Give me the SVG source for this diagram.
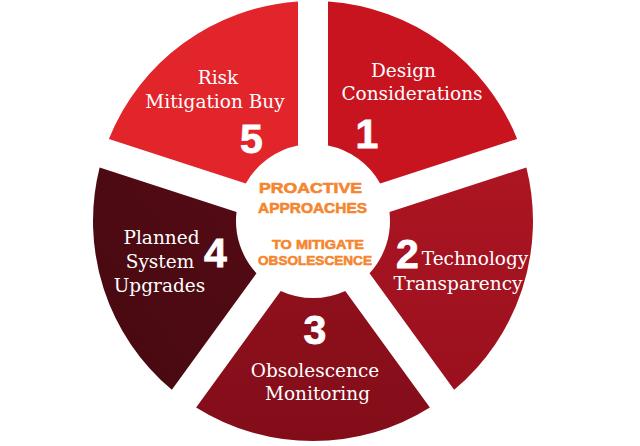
<svg xmlns="http://www.w3.org/2000/svg" width="640" height="446" viewBox="0 0 640 446">
<style>
.lbl{font-family:"DejaVu Serif","Liberation Serif",serif;font-size:18.5px;fill:#ffffff;text-anchor:middle}
.num{font-family:"Liberation Sans","DejaVu Sans",sans-serif;font-weight:bold;font-size:41px;fill:#ffffff;stroke:#ffffff;stroke-width:0.8;text-anchor:middle}
.ctr{font-family:"Liberation Sans","DejaVu Sans",sans-serif;font-weight:bold;fill:#f5862f;stroke:#f5862f;stroke-width:0.6;text-anchor:middle}
</style>
<defs>
<linearGradient id="g2" x1="0" y1="0" x2="0" y2="1"><stop offset="0" stop-color="#ad1522"/><stop offset="1" stop-color="#9a101e"/></linearGradient>
<linearGradient id="g3" x1="0" y1="0" x2="0" y2="1"><stop offset="0" stop-color="#8e101c"/><stop offset="1" stop-color="#820d19"/></linearGradient>
<linearGradient id="g4" x1="1" y1="0" x2="0" y2="1"><stop offset="0" stop-color="#540b15"/><stop offset="1" stop-color="#470910"/></linearGradient>
</defs>
<rect width="640" height="446" fill="#ffffff"/>
<g id="seg1">
<path d="M328,1.51 A220 220 0 0 1 517.11,138.91 L380.19,183.40 A77 77 0 0 0 328,145.47 Z" fill="#c8141f"/>
<text class="lbl" x="403.5" y="77">Design</text>
<text class="lbl" x="412" y="100">Considerations</text>
<text class="num" x="367" y="148">1</text>
</g>
<g id="seg2">
<path d="M526.38,167.44 A220 220 0 0 1 454.15,389.75 L369.53,273.28 A77 77 0 0 0 389.46,211.93 Z" fill="url(#g2)"/>
<text class="num" x="407.5" y="268">2</text>
<text class="lbl" x="475" y="265">Technology</text>
<text class="lbl" x="458" y="290">Transparency</text>
</g>
<g id="seg3">
<path d="M429.88,407.39 A220 220 0 0 1 196.12,407.39 L280.74,290.92 A77 77 0 0 0 345.26,290.92 Z" fill="url(#g3)"/>
<text class="num" x="315" y="344">3</text>
<text class="lbl" x="315" y="377">Obsolescence</text>
<text class="lbl" x="317.5" y="400">Monitoring</text>
</g>
<g id="seg4">
<path d="M171.85,389.75 A220 220 0 0 1 99.62,167.44 L236.54,211.93 A77 77 0 0 0 256.47,273.28 Z" fill="url(#g4)"/>
<text class="lbl" x="161.5" y="244">Planned</text>
<text class="lbl" x="160" y="268">System</text>
<text class="lbl" x="159.5" y="292">Upgrades</text>
<text class="num" x="215.5" y="267">4</text>
</g>
<g id="seg5">
<path d="M108.89,138.91 A220 220 0 0 1 298,1.51 L298,145.47 A77 77 0 0 0 245.81,183.40 Z" fill="#e2252b"/>
<text class="lbl" x="218" y="84">Risk</text>
<text class="lbl" x="215" y="108">Mitigation Buy</text>
<text class="num" x="251.5" y="153">5</text>
</g>
<g id="center">
<text class="ctr" x="310.5" y="193" font-size="15" textLength="103" lengthAdjust="spacingAndGlyphs">PROACTIVE</text>
<text class="ctr" x="312.5" y="213" font-size="15" textLength="109" lengthAdjust="spacingAndGlyphs">APPROACHES</text>
<text class="ctr" x="318" y="249" font-size="13.5" textLength="92" lengthAdjust="spacingAndGlyphs">TO MITIGATE</text>
<text class="ctr" x="315" y="265" font-size="13.5" textLength="114" lengthAdjust="spacingAndGlyphs">OBSOLESCENCE</text>
</g>
<g id="connectors"></g>
</svg>
